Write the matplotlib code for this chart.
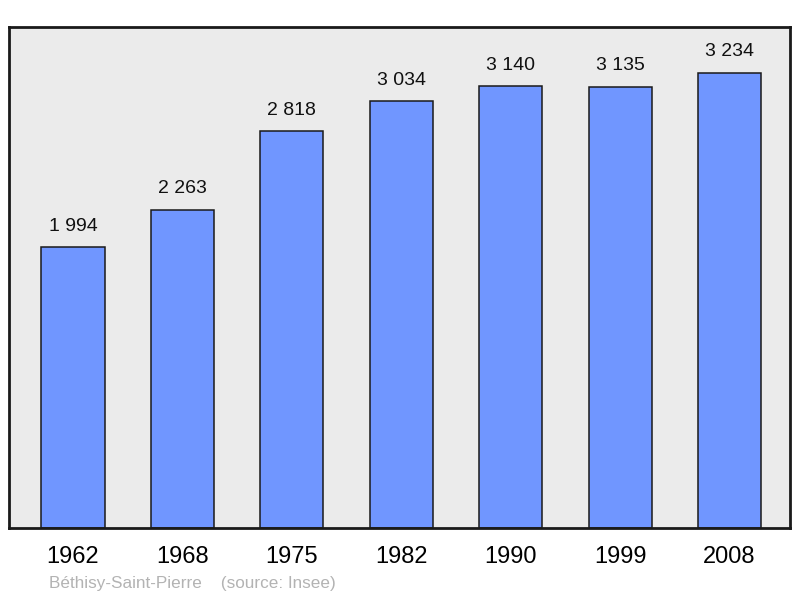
import matplotlib.pyplot as plt

years = ["1962", "1968", "1975", "1982", "1990", "1999", "2008"]
population = [1994, 2263, 2818, 3034, 3140, 3135, 3234]
value_labels = ["1 994", "2 263", "2 818", "3 034", "3 140", "3 135", "3 234"]

plt.rcParams['font.family'] = ['Liberation Sans', 'DejaVu Sans']

fig = plt.figure(figsize=(8, 5.98), dpi=100)
ax = fig.add_axes([0.01125, 0.117, 0.97625, 0.838])
ax.set_facecolor('#ebebeb')

x = range(len(years))
ax.bar(x, population, width=0.576, color='#7096ff', edgecolor='#1a1a1a', linewidth=1.1, zorder=2)
for xi, v, lab in zip(x, population, value_labels):
    ax.annotate(lab, (xi, v), xytext=(0, 9), textcoords='offset points',
                ha='center', va='bottom', fontsize=14, color='#111111')

ax.set_xlim(-0.585, 6.553)
ax.set_ylim(0, 3561)
ax.set_yticks([])
ax.set_xticks(list(x))
ax.set_xticklabels(years, fontsize=17)
ax.tick_params(axis='x', length=0, pad=13)
for s in ax.spines.values():
    s.set_linewidth(2)
    s.set_color('#1a1a1a')

fig.text(0.061, 0.012, "Béthisy-Saint-Pierre    (source: Insee)", fontsize=12.3,
         color='#b3b3b3', ha='left', va='bottom')

fig.savefig('out.png', dpi=100)
